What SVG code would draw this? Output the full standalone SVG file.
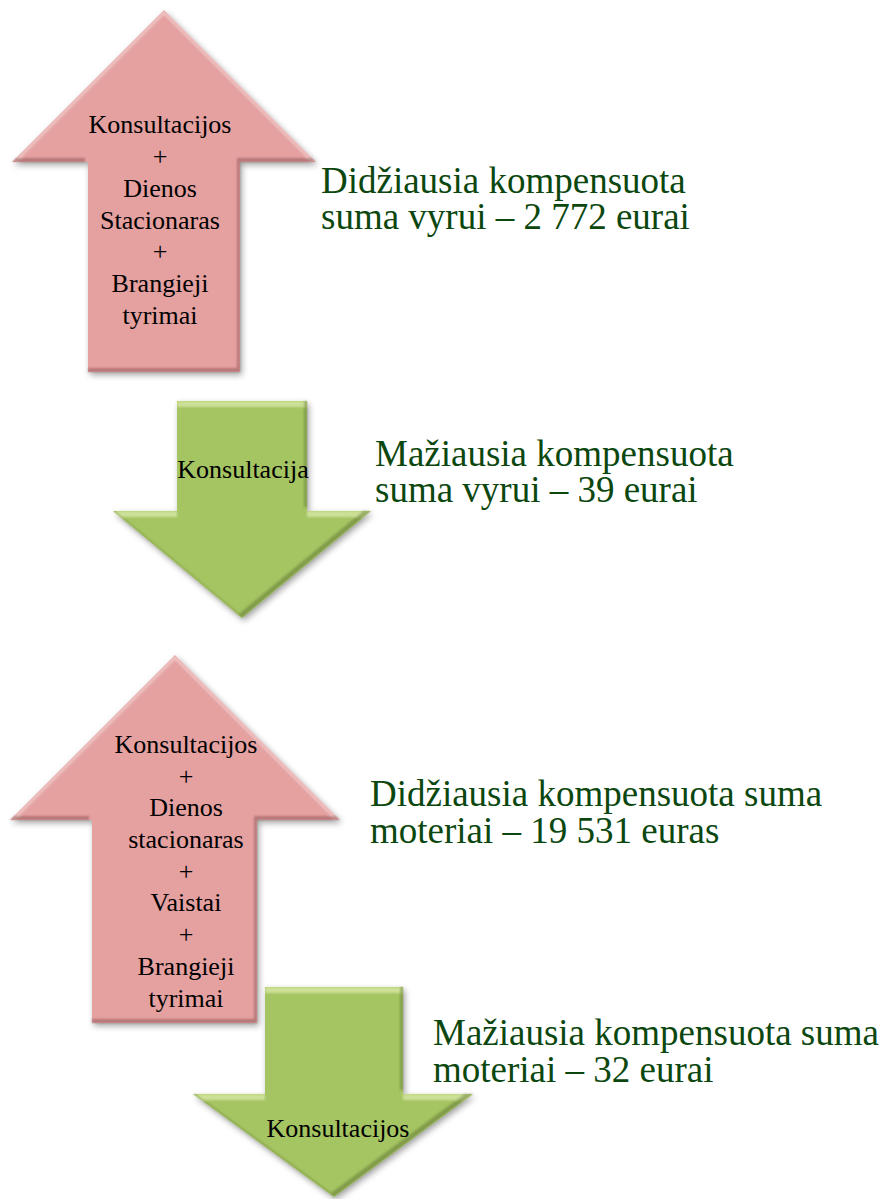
<svg xmlns="http://www.w3.org/2000/svg" width="888" height="1199" viewBox="0 0 888 1199">
<style>
.pink{fill:#e5a0a0}
.green{fill:#a5c462}
.hl{fill:#ffffff}
.sh{fill:#5a2a2a}
.shg{fill:#3d4f15}
text{font-family:'Liberation Serif','Times New Roman',Times,serif}
.node{font-size:26px;fill:#000;text-anchor:middle}
.lbl{font-size:37px;fill:#0b470e}
</style>
<defs>
<path id="a1" d="M164,10 L316,162 L240,162 L240,372 L88,372 L88,162 L12,162 Z"/>
<path id="a2" d="M177,401 L307,401 L307,511 L371,511 L242,618 L113,511 L177,511 Z"/>
<path id="a3" d="M175,655 L340,820 L257,820 L257,1023 L92,1023 L92,820 L10,820 Z"/>
<path id="a4" d="M265,987 L403,987 L403,1094 L473,1094 L334,1197 L193,1094 L265,1094 Z"/>
<filter id="shadow" x="-10%" y="-10%" width="130%" height="130%">
<feDropShadow dx="2" dy="3" stdDeviation="3" flood-color="#000" flood-opacity="0.35"/>
</filter>
<filter id="soft" x="-10%" y="-10%" width="120%" height="120%">
<feGaussianBlur stdDeviation="1.2"/>
</filter>
<mask id="t1"><use href="#a1" fill="#fff"/><use href="#a1" fill="#000" transform="translate(0,5)"/></mask>
<mask id="b1"><use href="#a1" fill="#fff"/><use href="#a1" fill="#000" transform="translate(-3,-4)"/></mask>
<mask id="t2"><use href="#a2" fill="#fff"/><use href="#a2" fill="#000" transform="translate(0,6)"/></mask>
<mask id="b2"><use href="#a2" fill="#fff"/><use href="#a2" fill="#000" transform="translate(-3,-4)"/></mask>
<mask id="t3"><use href="#a3" fill="#fff"/><use href="#a3" fill="#000" transform="translate(0,5)"/></mask>
<mask id="b3"><use href="#a3" fill="#fff"/><use href="#a3" fill="#000" transform="translate(-3,-4)"/></mask>
<mask id="t4"><use href="#a4" fill="#fff"/><use href="#a4" fill="#000" transform="translate(0,6)"/></mask>
<mask id="b4"><use href="#a4" fill="#fff"/><use href="#a4" fill="#000" transform="translate(-3,-4)"/></mask>
</defs>
<rect width="888" height="1199" fill="#fff"/>
<g id="connectors"></g>
<g id="node-up-men">
<use href="#a1" class="pink" filter="url(#shadow)"/>
<g filter="url(#soft)"><use href="#a1" class="hl" fill-opacity="0.35" mask="url(#t1)"/><use href="#a1" class="sh" fill-opacity="0.35" mask="url(#b1)"/></g>
<text class="node" x="160" y="133" font-family="Liberation Serif, serif">Konsultacijos</text>
<text class="node" x="160" y="165" font-family="Liberation Serif, serif">+</text>
<text class="node" x="160" y="197" font-family="Liberation Serif, serif">Dienos</text>
<text class="node" x="160" y="229" font-family="Liberation Serif, serif">Stacionaras</text>
<text class="node" x="160" y="260" font-family="Liberation Serif, serif">+</text>
<text class="node" x="160" y="292" font-family="Liberation Serif, serif">Brangieji</text>
<text class="node" x="160" y="324" font-family="Liberation Serif, serif">tyrimai</text>
</g>
<g id="label-max-men">
<text class="lbl" x="321" y="193" font-family="Liberation Serif, serif">Didžiausia kompensuota</text>
<text class="lbl" x="321" y="229" font-family="Liberation Serif, serif">suma vyrui – 2 772 eurai</text>
</g>
<g id="node-down-men">
<use href="#a2" class="green" filter="url(#shadow)"/>
<g filter="url(#soft)"><use href="#a2" fill="#eef7c4" fill-opacity="0.55" mask="url(#t2)"/><use href="#a2" class="shg" fill-opacity="0.35" mask="url(#b2)"/></g>
<text class="node" x="243" y="478" font-family="Liberation Serif, serif">Konsultacija</text>
</g>
<g id="label-min-men">
<text class="lbl" x="375" y="466" font-family="Liberation Serif, serif">Mažiausia kompensuota</text>
<text class="lbl" x="375" y="502" font-family="Liberation Serif, serif">suma vyrui – 39 eurai</text>
</g>
<g id="node-up-women">
<use href="#a3" class="pink" filter="url(#shadow)"/>
<g filter="url(#soft)"><use href="#a3" class="hl" fill-opacity="0.35" mask="url(#t3)"/><use href="#a3" class="sh" fill-opacity="0.35" mask="url(#b3)"/></g>
<text class="node" x="186" y="753" font-family="Liberation Serif, serif">Konsultacijos</text>
<text class="node" x="186" y="785" font-family="Liberation Serif, serif">+</text>
<text class="node" x="186" y="816" font-family="Liberation Serif, serif">Dienos</text>
<text class="node" x="186" y="848" font-family="Liberation Serif, serif">stacionaras</text>
<text class="node" x="186" y="880" font-family="Liberation Serif, serif">+</text>
<text class="node" x="186" y="911" font-family="Liberation Serif, serif">Vaistai</text>
<text class="node" x="186" y="943" font-family="Liberation Serif, serif">+</text>
<text class="node" x="186" y="975" font-family="Liberation Serif, serif">Brangieji</text>
<text class="node" x="186" y="1007" font-family="Liberation Serif, serif">tyrimai</text>
</g>
<g id="label-max-women">
<text class="lbl" x="370" y="806" font-family="Liberation Serif, serif">Didžiausia kompensuota suma</text>
<text class="lbl" x="370" y="843" font-family="Liberation Serif, serif">moteriai – 19 531 euras</text>
</g>
<g id="node-down-women">
<use href="#a4" class="green" filter="url(#shadow)"/>
<g filter="url(#soft)"><use href="#a4" fill="#eef7c4" fill-opacity="0.55" mask="url(#t4)"/><use href="#a4" class="shg" fill-opacity="0.35" mask="url(#b4)"/></g>
<text class="node" x="338" y="1137" font-family="Liberation Serif, serif">Konsultacijos</text>
</g>
<g id="label-min-women">
<text class="lbl" x="433" y="1045" font-family="Liberation Serif, serif">Mažiausia kompensuota suma</text>
<text class="lbl" x="433" y="1082" font-family="Liberation Serif, serif">moteriai – 32 eurai</text>
</g>
</svg>
